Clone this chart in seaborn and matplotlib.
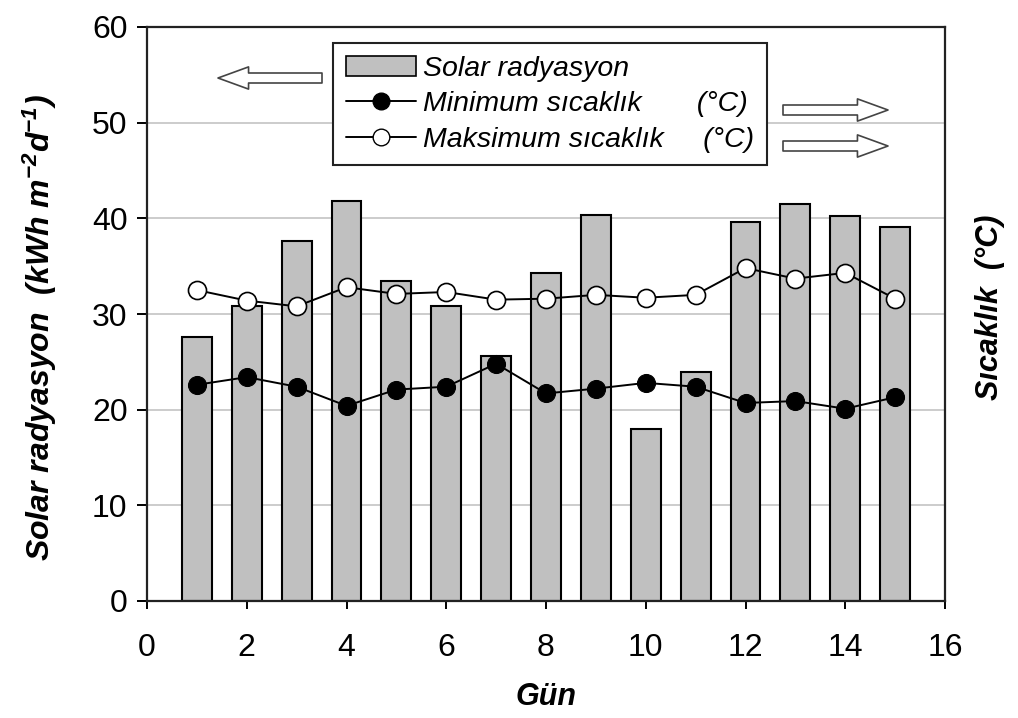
import matplotlib
matplotlib.use("Agg")
import matplotlib.pyplot as plt
import seaborn as sns
import pandas as pd
from matplotlib.patches import Patch
from matplotlib.lines import Line2D

days = [1, 2, 3, 4, 5, 6, 7, 8, 9, 10, 11, 12, 13, 14, 15]
solar = [27.6, 30.8, 37.6, 41.8, 33.5, 30.8, 25.6, 34.3, 40.4, 18.0, 23.9, 39.6, 41.5, 40.2, 39.1]
tmin = [22.6, 23.4, 22.4, 20.4, 22.1, 22.4, 24.8, 21.7, 22.2, 22.8, 22.4, 20.7, 20.9, 20.1, 21.3]
tmax = [32.5, 31.4, 30.8, 32.8, 32.1, 32.3, 31.5, 31.6, 32.0, 31.7, 32.0, 34.8, 33.7, 34.3, 31.6]
xticks = [0, 2, 4, 6, 8, 10, 12, 14, 16]
yticks = [0, 10, 20, 30, 40, 50, 60]

sns.set_theme(style="white")
plt.rcParams['font.family'] = ['Liberation Sans', 'DejaVu Sans']
plt.rcParams['text.color'] = 'black'
plt.rcParams['axes.labelcolor'] = 'black'
plt.rcParams['mathtext.fontset'] = 'custom'
plt.rcParams['mathtext.rm'] = 'Liberation Sans:italic:bold'
plt.rcParams['mathtext.it'] = 'Liberation Sans:italic:bold'
plt.rcParams['mathtext.bf'] = 'Liberation Sans:italic:bold'

df = pd.DataFrame({"day": days, "solar": solar, "tmin": tmin, "tmax": tmax})

fig = plt.figure(figsize=(10.18, 7.18), dpi=100)
ax = fig.add_axes([147/1018, 1-601/718, 798/1018, 574/718])

ax.yaxis.grid(True, color='#c8c8c8', lw=1.3, zorder=0)
ax.set_axisbelow(True)

sns.barplot(data=df, x="day", y="solar", native_scale=True, width=0.6,
            color='#c0c0c0', saturation=1, edgecolor='black', linewidth=1.5, ax=ax, zorder=2)
sns.lineplot(data=df, x="day", y="tmin", color='black', lw=1.4, marker='o', markersize=13,
             markerfacecolor='black', markeredgecolor='black', ax=ax, zorder=3)
sns.lineplot(data=df, x="day", y="tmax", color='black', lw=1.4, marker='o', markersize=13,
             markerfacecolor='white', markeredgecolor='black', markeredgewidth=1.2, ax=ax, zorder=3)

ax.set_xlim(0, 16)
ax.set_ylim(0, 60)
ax.set_xticks(xticks)
ax.set_xticklabels([str(v) for v in xticks])
ax.set_yticks(yticks)
ax.set_yticklabels([str(v) for v in yticks])
ax.tick_params(axis='both', which='both', direction='out', length=7, width=1.4,
               labelsize=23, colors='black', bottom=True, left=True)
ax.tick_params(axis='x', length=6, pad=17)
ax.tick_params(axis='y', pad=7)
for s in ax.spines.values():
    s.set_visible(True)
    s.set_color('#222222')
    s.set_linewidth(1.6)

ax.set_xlabel("Gün", fontsize=22, fontweight='bold', fontstyle='italic', labelpad=14, color='black')
ax.set_ylabel("Solar radyasyon  (kWh m$^{-2}$d$^{-1}$)", fontsize=23, fontweight='bold',
              fontstyle='italic', color='black')
ax.yaxis.set_label_coords(-0.11, 0.476)
fig.text(990/1018, 1-307/718, "Sıcaklık  (°C)", rotation=90, fontsize=22, fontweight='bold',
         fontstyle='italic', ha='center', va='center', color='black')

handles = [
    Patch(facecolor='#c0c0c0', edgecolor='black', linewidth=1.2),
    Line2D([0], [0], color='black', lw=1.4, marker='o', markersize=12, markerfacecolor='black'),
    Line2D([0], [0], color='black', lw=1.4, marker='o', markersize=12, markerfacecolor='white'),
]
labels = ["Solar radyasyon", "Minimum sıcaklık       (°C)", "Maksimum sıcaklık     (°C)"]
leg = ax.legend(handles, labels, loc='upper left', bbox_to_anchor=(0.233, 0.972, 0.544, 0.0),
                mode='expand', frameon=True, fancybox=False, borderpad=0.45, labelspacing=0.33,
                handlelength=2.45, handletextpad=0.25, borderaxespad=0,
                prop={'size': 20.5, 'style': 'italic'}, labelcolor='black')
leg.get_frame().set_edgecolor('#222222')
leg.get_frame().set_linewidth(1.5)
leg.get_frame().set_facecolor('white')
leg.get_frame().set_alpha(1)
leg.set_zorder(5)

arrow_kw = dict(arrowstyle='simple,head_length=1.1,head_width=0.8,tail_width=0.36',
                fc='white', ec='#444444', lw=1.2, mutation_scale=20, shrinkA=0, shrinkB=0)
ax.annotate('', xy=((218-147)/798, (601-78)/574), xytext=((322-147)/798, (601-78)/574),
            xycoords='axes fraction', textcoords='axes fraction', arrowprops=arrow_kw)
for yp in (110, 146):
    ax.annotate('', xy=((888-147)/798, (601-yp)/574), xytext=((783-147)/798, (601-yp)/574),
                xycoords='axes fraction', textcoords='axes fraction', arrowprops=arrow_kw)

fig.savefig("out.png", dpi=100)
